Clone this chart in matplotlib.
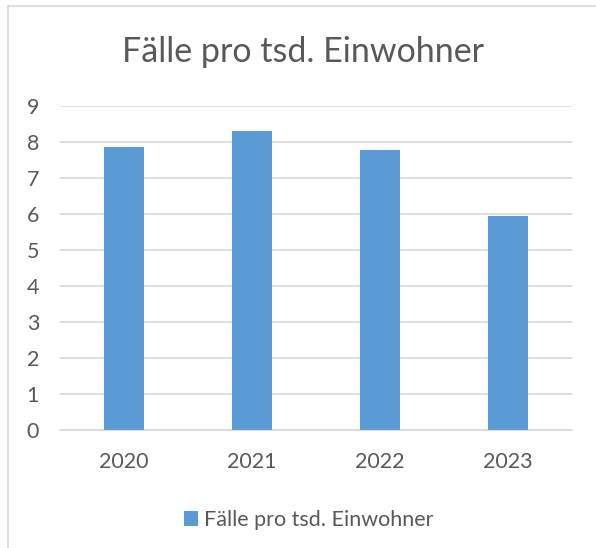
import matplotlib
matplotlib.use("Agg")
import matplotlib.pyplot as plt
from matplotlib.lines import Line2D
from matplotlib.patches import Patch

years = ["2020", "2021", "2022", "2023"]
values = [7.86, 8.29, 7.76, 5.94]
yticks = list(range(0, 10))
series_name = "Fälle pro tsd. Einwohner"

BAR = "#5B9BD5"
TEXT = "#595959"
GRID = "#D9D9D9"

plt.rcParams["font.family"] = ["Lato", "DejaVu Sans"]

W, H = 596, 548
fig = plt.figure(figsize=(W / 100, H / 100), dpi=100)

# plot area in pixel coordinates
left, right, top, bottom = 60, 572, 105.7, 430
ax = fig.add_axes([left / W, (H - bottom) / H, (right - left) / W, (bottom - top) / H])

x = range(len(years))
ax.bar(x, values, width=0.3125, color=BAR, zorder=3)

ax.set_xlim(-0.5, len(years) - 0.5)
ax.set_ylim(0, 9)
ax.set_yticks(yticks)
ax.set_xticks(list(x))
ax.set_xticklabels(years)
ax.yaxis.grid(True, color=GRID, linewidth=1.2, zorder=0)
ax.set_axisbelow(True)
for s in ["left", "right", "top"]:
    ax.spines[s].set_visible(False)
ax.spines["bottom"].set_color(GRID)
ax.spines["bottom"].set_linewidth(1.2)
ax.tick_params(axis="both", length=0, labelcolor=TEXT, labelsize=15.5)
ax.tick_params(axis="y", pad=15)
ax.tick_params(axis="x", pad=16)

# title
fig.text(303 / W, 1 - 62.3 / H, series_name, ha="center", va="baseline",
         fontsize=24.5, color=TEXT)

# legend
handle = Patch(facecolor=BAR, edgecolor="none")
fig.legend([handle], [series_name], loc="center", bbox_to_anchor=(309 / W, 1 - 520 / H),
           frameon=False, fontsize=15.5, labelcolor=TEXT, handlelength=0.65,
           handleheight=0.65, handletextpad=0.3, borderpad=0)

# chart area border (only left and top visible)
fig.add_artist(Line2D([8 / W, 8 / W], [0, 1 - 6 / H], color=GRID, linewidth=1.2))
fig.add_artist(Line2D([8 / W, 1], [1 - 6 / H, 1 - 6 / H], color=GRID, linewidth=1.2))

fig.savefig("out.png", dpi=100)
